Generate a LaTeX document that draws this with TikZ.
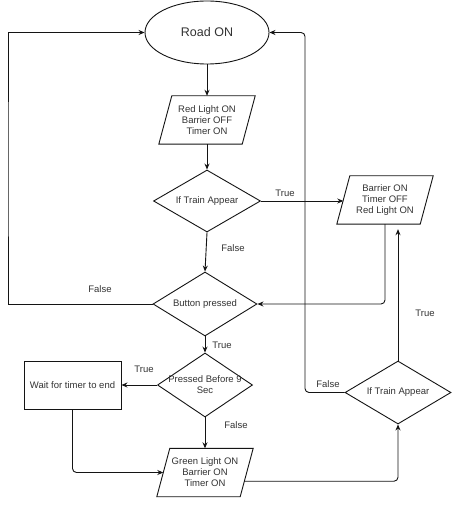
\documentclass[tikz,border=0pt]{standalone}
\usepackage{fontspec}
\setmainfont{Liberation Sans}
\usetikzlibrary{shapes.geometric,arrows.meta,calc}
\definecolor{txt}{RGB}{51,51,51}
\definecolor{ln}{RGB}{20,20,20}
\newcommand\drawpara[1]{%
  \draw[ln,line width=0.9pt] ([xshift=6.5pt]#1.north west) -- ([xshift=6.5pt]#1.north east)
    -- ([xshift=-6.5pt]#1.south east) -- ([xshift=-6.5pt]#1.south west) -- cycle;}
\begin{document}
\begin{tikzpicture}[x=1pt,y=-1pt,
  every node/.style={text=txt,font=\fontsize{9.5}{11}\selectfont},
  para/.style={rectangle,minimum width=83pt,minimum height=48pt,inner sep=0pt,align=center},
  dia/.style={diamond,draw=ln,line width=0.9pt,inner sep=0pt},
  boxnode/.style={rectangle,draw=ln,line width=0.9pt,inner sep=0pt,align=center},
  conn/.style={draw=ln,line width=0.9pt,-{Stealth[length=6pt,width=5pt]}},
  lbl/.style={inner sep=0pt}]
\useasboundingbox (0,0) rectangle (451,510);
\fill[white] (0,0) rectangle (451,510);
% nodes
\node[ellipse,draw=ln,line width=0.9pt,minimum width=124pt,minimum height=63pt,inner sep=0pt,
      font=\fontsize{12.5}{14}\selectfont] (e) at (207,32.5) {Road ON};
\node[para] (p1) at (207,120) {Red Light ON\\Barrier OFF\\Timer ON};
\drawpara{p1}
\node[dia,minimum width=107pt,minimum height=62pt,label={[text=txt]center:If Train Appear}] (d1) at (207,201) {};
\node[para] (p2) at (385,200) {Barrier ON\\Timer OFF\\Red Light ON};
\drawpara{p2}
\node[dia,minimum width=104pt,minimum height=64pt,label={[text=txt]center:Button pressed}] (d2) at (205,304) {};
\node[dia,minimum width=95pt,minimum height=64pt,label={[text=txt,align=center]center:Pressed Before 9\\Sec}] (d3) at (205,385) {};
\node[boxnode,minimum width=97pt,minimum height=48pt] (w) at (72.5,385) {Wait for timer to end};
\node[para] (p3) at (205,472.5) {Green Light ON\\Barrier ON\\Timer ON};
\drawpara{p3}
\node[dia,minimum width=106pt,minimum height=63pt,label={[text=txt]center:If Train Appear}] (d4) at (398,392.5) {};
\coordinate (lft) at (8,170);
\coordinate (rgt) at (305,200);
\coordinate (p3r) at ($([xshift=6.5pt]p3.north east)!0.68!([xshift=-6.5pt]p3.south east)$);
% connectors
\draw[conn] (e.south) -- (p1.north);
\draw[conn] (p1.south) -- (d1.north);
\draw[conn] (d1.east) -- (d1.east -| p2.west);
\draw[conn,rounded corners=4pt] (p2.south) |- (d2.east);
\draw[conn] (d1.south) -- (d2.north);
\draw[conn] (d2.west) -| (lft) |- (e.west);
\draw[conn] (d2.south) -- (d3.north);
\draw[conn] (d3.west) -- (w.east);
\draw[conn] (d3.south) -- (p3.north);
\draw[conn,rounded corners=4pt] (w.south) |- (p3.west);
\draw[conn,rounded corners=4pt] (p3r) -| (d4.south);
\draw[conn,shorten >=5pt] (d4.north) -- (d4.north |- p2.south);
\draw[conn,rounded corners=4pt] (d4.west) -| (rgt) |- (e.east);
% labels
\node[lbl] (t1) at (285,193) {True};
\node[lbl] (f1) at (233,248) {False};
\node[lbl] (f2) at (100,289) {False};
\node[lbl] (t2) at (222,345) {True};
\node[lbl] (t3) at (144,369) {True};
\node[lbl] (f3) at (236,425) {False};
\node[lbl] (f4) at (328,384) {False};
\node[lbl] (t4) at (425,313) {True};
\end{tikzpicture}
\end{document}
